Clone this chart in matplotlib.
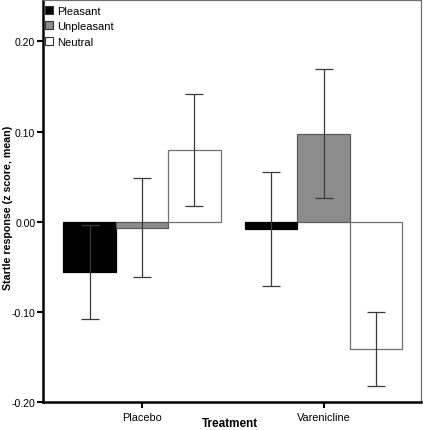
import numpy as np
import matplotlib.pyplot as plt
from matplotlib.patches import Patch

# data
treatments = ['Placebo', 'Varenicline']
conditions = ['Pleasant', 'Unpleasant', 'Neutral']
pleasant = [-0.0556, -0.0080]
unpleasant = [-0.0065, 0.0978]
neutral = [0.0793, -0.1415]
pleasant_err = [0.052, 0.063]
unpleasant_err = [0.055, 0.072]
neutral_err = [0.062, 0.041]

fills = ['#000000', '#8c8c8c', '#ffffff']
edges = ['#000000', '#5a5a5a', '#707070']

plt.rcParams['font.family'] = ['Liberation Sans', 'DejaVu Sans']

fig = plt.figure(figsize=(4.23, 4.31), dpi=100)
ax = fig.add_axes([43 / 423, 28 / 431, 378 / 423, 402 / 431])

x = np.arange(len(treatments))
w = 0.289
series = [pleasant, unpleasant, neutral]
errs = [pleasant_err, unpleasant_err, neutral_err]
for i, (vals, err) in enumerate(zip(series, errs)):
    pos = x + (i - 1) * w
    ax.bar(pos, vals, w, color=fills[i], edgecolor=edges[i], linewidth=0.9, zorder=2)
    ax.errorbar(pos, vals, yerr=err, fmt='none', ecolor='#3a3a3a',
                elinewidth=0.9, capsize=6.5, capthick=0.9, zorder=3)

ax.set_xlim(-0.545, 1.536)
ax.set_ylim(-0.20, 0.246)
ax.set_yticks([-0.20, -0.10, 0.00, 0.10, 0.20])
ax.set_yticklabels(['-0.20', '-0.10', '0.00', '0.10', '0.20'], fontsize=7.6)
ax.set_xticks(x)
ax.set_xticklabels(treatments, fontsize=7.8)
ax.tick_params(axis='both', length=4, width=1.5, color='black', pad=1.5)
ax.tick_params(axis='x', pad=3.5)

ax.spines['left'].set_linewidth(1.8)
ax.spines['bottom'].set_linewidth(1.8)
ax.spines['top'].set_color('#707070')
ax.spines['right'].set_color('#707070')
ax.spines['top'].set_linewidth(0.9)
ax.spines['right'].set_linewidth(0.9)

ax.set_ylabel('Startle response (z score, mean)', fontsize=7.7, fontweight='bold',
              ha='center', va='center')
ax.yaxis.set_label_coords(-0.093, 0.486)
ax.set_xlabel('Treatment', fontsize=8.5, fontweight='bold')
ax.xaxis.set_label_coords(0.495, -0.038)

handles = [Patch(facecolor=fills[i], edgecolor='#333333', linewidth=0.8, label=conditions[i])
           for i in range(3)]
ax.legend(handles=handles, loc='upper left', bbox_to_anchor=(-0.012, 1.002), frameon=False,
          fontsize=8, handlelength=0.75, handleheight=0.75, handletextpad=0.3,
          labelspacing=0.48, borderaxespad=0.2)

fig.savefig('out.png', dpi=100)
